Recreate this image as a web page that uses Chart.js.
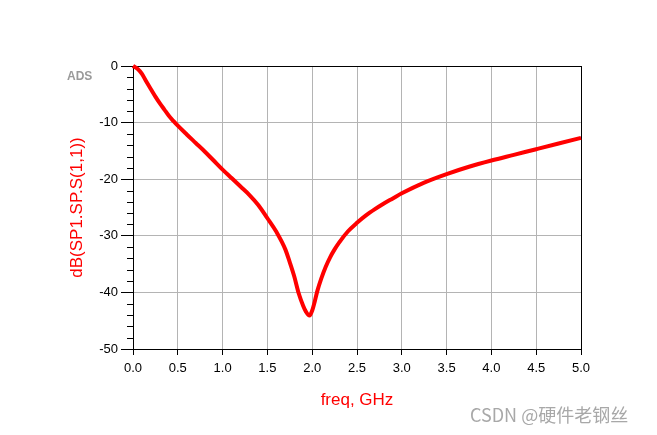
<!DOCTYPE html>
<html>
<head>
<meta charset="utf-8">
<script src="https://cdn.jsdelivr.net/npm/chart.js@4.4.0/dist/chart.umd.min.js"></script>
<style>
  html, body { margin: 0; padding: 0; background: #fff; }
</style>
</head>
<body>
<canvas id="c" width="657" height="435"></canvas>
<script>
// values (freq in GHz, S11 in dB)
const freq = [0, 0.05, 0.1, 0.15, 0.2, 0.25, 0.3, 0.35, 0.4, 0.45, 0.5, 0.6, 0.7, 0.8, 0.9, 1.0,
  1.1, 1.2, 1.3, 1.4, 1.5, 1.6, 1.7, 1.75, 1.8, 1.85, 1.9, 1.93, 1.97, 2.0,
  2.03, 2.06, 2.1, 2.15, 2.2, 2.25, 2.3, 2.4, 2.5, 2.6, 2.7, 2.8, 2.9, 3.0,
  3.25, 3.5, 3.75, 4.0, 4.25, 4.5, 4.75, 5.0];
const s11 = [0, -0.5, -1.4, -2.8, -4.1, -5.4, -6.6, -7.7, -8.8, -9.7, -10.55, -12.1, -13.6, -15.1, -16.7, -18.3,
  -19.8, -21.3, -22.8, -24.6, -26.9, -29.3, -32.4, -34.7, -37.2, -40.2, -42.4, -43.4, -44.1, -43.2,
  -41.5, -39.6, -37.6, -35.5, -33.8, -32.4, -31.2, -29.2, -27.7, -26.4, -25.3, -24.3, -23.4, -22.5,
  -20.6, -19.1, -17.8, -16.7, -15.7, -14.7, -13.7, -12.7];

const xTitle = 'freq, GHz';
const yTitle = 'dB(SP1.SP.S(1,1))';
const yMinorStep = 2;

const points = freq.map((f, i) => ({ x: f, y: s11[i] }));

const extras = {
  id: 'ads_extras',
  beforeDatasetsDraw: (chart) => {
    const ctx = chart.ctx;
    const a = chart.chartArea;
    const ys = chart.scales.y;
    ctx.save();
    ctx.strokeStyle = '#000';
    ctx.lineWidth = 1;
    ctx.strokeRect(Math.round(a.left) + 0.5, Math.round(a.top) + 0.5,
      Math.round(a.right - a.left), Math.round(a.bottom - a.top));
    // minor ticks on the y axis
    ctx.beginPath();
    for (let v = ys.min; v <= ys.max; v += yMinorStep) {
      if (v % 10 === 0) continue;
      const py = Math.round(ys.getPixelForValue(v)) + 0.5;
      ctx.moveTo(a.left - 6, py);
      ctx.lineTo(a.left, py);
    }
    ctx.stroke();
    ctx.restore();
  },
  afterDraw: (chart) => {
    const ctx = chart.ctx;
    ctx.save();
    ctx.fillStyle = '#9a9a9a';
    ctx.font = 'bold 12px "Liberation Sans", Arial, sans-serif';
    ctx.textBaseline = 'alphabetic';
    ctx.fillText('ADS', 67, 80);
    ctx.fillStyle = '#a8a8a8';
    ctx.font = '18px "Noto Sans CJK SC", "Noto Sans", sans-serif';
    ctx.fillText('CSDN @硬件老钢丝', 470, 422);
    ctx.restore();
  }
};

new Chart(document.getElementById('c').getContext('2d'), {
  type: 'scatter',
  data: {
    datasets: [{
      data: points,
      showLine: true,
      borderColor: '#ff0000',
      backgroundColor: '#ff0000',
      borderWidth: 4,
      pointRadius: 0,
      cubicInterpolationMode: 'monotone',
      clip: 4,
    }]
  },
  plugins: [extras],
  options: {
    responsive: false,
    animation: false,
    layout: { padding: { top: 66, right: 76, left: 0, bottom: 0 } },
    plugins: { legend: { display: false }, tooltip: { enabled: false } },
    scales: {
      x: {
        type: 'linear',
        min: 0,
        max: 5,
        afterFit: (s) => { s.height = 86; },
        ticks: {
          stepSize: 0.5,
          padding: 6,
          color: '#000',
          font: { family: '"Liberation Sans", Arial, sans-serif', size: 13 },
          callback: (v) => v.toFixed(1),
          maxRotation: 0,
        },
        grid: { color: '#b4b4b4', tickColor: '#000', tickLength: 6, lineWidth: 1 },
        border: { color: '#000' },
        title: {
          display: true,
          text: xTitle,
          color: '#ff0000',
          font: { family: '"Liberation Sans", Arial, sans-serif', size: 17 },
          padding: { top: 0, bottom: 24 },
        },
      },
      y: {
        min: -50,
        max: 0,
        afterFit: (s) => { s.width = 133; },
        ticks: {
          stepSize: 10,
          padding: 3,
          color: '#000',
          font: { family: '"Liberation Sans", Arial, sans-serif', size: 13 },
        },
        grid: { color: '#b4b4b4', tickColor: '#000', tickLength: 12, lineWidth: 1 },
        border: { color: '#000' },
        title: {
          display: true,
          text: yTitle,
          color: '#ff0000',
          font: { family: '"Liberation Sans", Arial, sans-serif', size: 17 },
          padding: { top: 67, bottom: 0 },
        },
      }
    }
  }
});
</script>
</body>
</html>
